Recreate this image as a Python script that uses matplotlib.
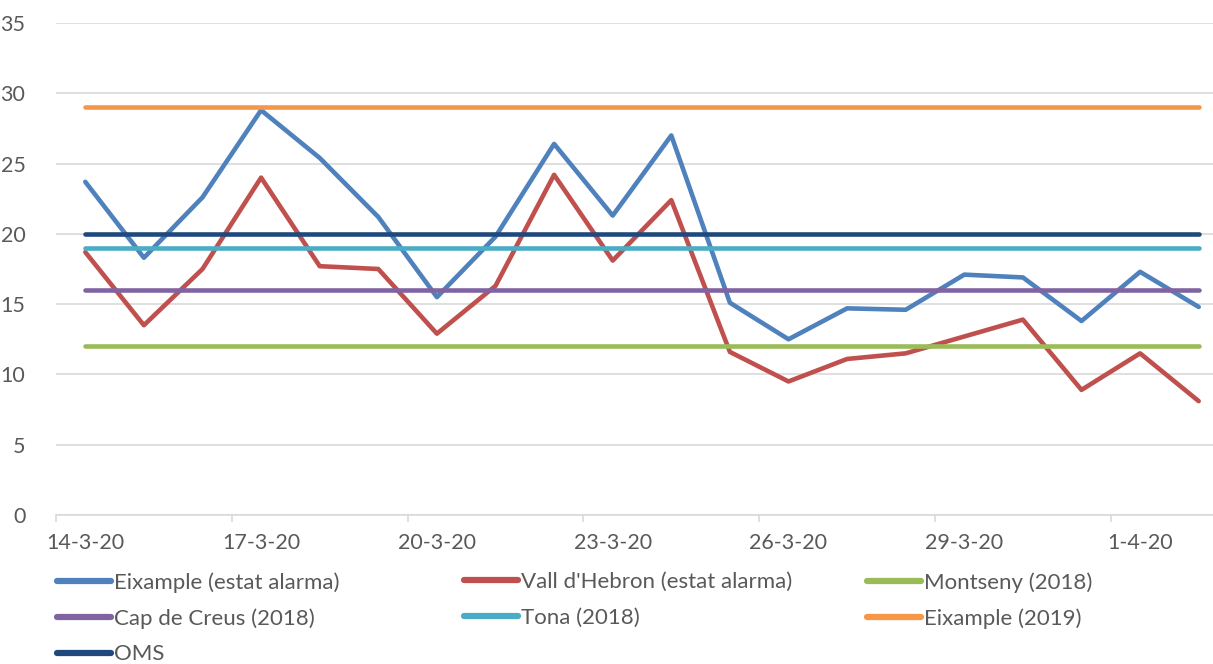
import matplotlib
matplotlib.use("Agg")
import matplotlib.pyplot as plt
import numpy as np
from datetime import date, timedelta

# 14-3-20 .. 2-4-20, one point per day
start = date(2020, 3, 14)
dates = [start + timedelta(days=i) for i in range(20)]
date_labels = [f"{d.day}-{d.month}-{d.year % 100}" for d in dates]

eixample_alarma = [23.7, 18.3, 22.6, 28.8, 25.4, 21.2, 15.5, 19.8, 26.4, 21.3,
                   27.0, 15.1, 12.5, 14.7, 14.6, 17.1, 16.9, 13.8, 17.3, 14.8]
vall_hebron_alarma = [18.7, 13.5, 17.5, 24.0, 17.7, 17.5, 12.9, 16.3, 24.2, 18.1,
                      22.4, 11.6, 9.5, 11.1, 11.5, 12.7, 13.9, 8.9, 11.5, 8.1]
montseny_2018 = 12
cap_creus_2018 = 16
tona_2018 = 19
eixample_2019 = 29
oms = 20

series = [
    ("Eixample (estat alarma)", eixample_alarma, "#4F81BD"),
    ("Vall d'Hebron (estat alarma)", vall_hebron_alarma, "#C0504D"),
    ("Montseny (2018)", [montseny_2018] * len(dates), "#9BBB59"),
    ("Cap de Creus (2018)", [cap_creus_2018] * len(dates), "#8064A2"),
    ("Tona (2018)", [tona_2018] * len(dates), "#4BACC6"),
    ("Eixample (2019)", [eixample_2019] * len(dates), "#F79646"),
    ("OMS", [oms] * len(dates), "#1F497D"),
]

plt.rcParams["font.family"] = ["Lato", "DejaVu Sans"]
txt = "#595959"

W, H = 1213, 664
fig = plt.figure(figsize=(W / 100, H / 100), dpi=100)
# axis runs a bit past the right edge, as in the cropped original
ax = fig.add_axes([56 / W, 1 - 515 / H, (1228 - 56) / W, (515 - 23) / H])

x = np.arange(len(dates))
handles = []
for label, vals, col in series:
    h, = ax.plot(x, vals, color=col, lw=3.3, solid_capstyle="round",
                 solid_joinstyle="round", label=label)
    handles.append(h)

ax.set_xlim(-0.5, len(dates) - 0.5)
ax.set_ylim(0, 35)
ax.set_yticks(range(0, 36, 5))
ax.yaxis.grid(True, color="#D9D9D9", lw=1.2)
ax.set_axisbelow(True)

ax.set_xticks(x[::3])
ax.set_xticklabels(date_labels[::3])
ax.set_xticks(np.arange(-0.5, len(dates), 3), minor=True)
ax.tick_params(axis="x", which="major", length=0, pad=13, labelsize=15.5, labelcolor=txt)
ax.tick_params(axis="x", which="minor", length=5, color="#D9D9D9", width=1.2)
ax.tick_params(axis="y", length=0, pad=22, labelsize=15.5, labelcolor=txt)

for s in ["top", "right", "left"]:
    ax.spines[s].set_visible(False)
ax.spines["bottom"].set_color("#D9D9D9")
ax.spines["bottom"].set_linewidth(1.2)

# legend laid out in three columns like the original
cols = [[0, 3, 6], [1, 4], [2, 5]]
col_x = [57, 464, 867]
for idx, cx in zip(cols, col_x):
    leg = fig.legend([handles[i] for i in idx], [series[i][0] for i in idx],
                     loc="upper left", bbox_to_anchor=(cx / W, 1 - 572 / H),
                     frameon=False, fontsize=16, handlelength=2.45,
                     handletextpad=0.1, labelspacing=0.7, borderaxespad=0,
                     borderpad=0, labelcolor=txt)
    for line in leg.get_lines():
        line.set_linewidth(4.5)

fig.savefig("out.png", dpi=100)
